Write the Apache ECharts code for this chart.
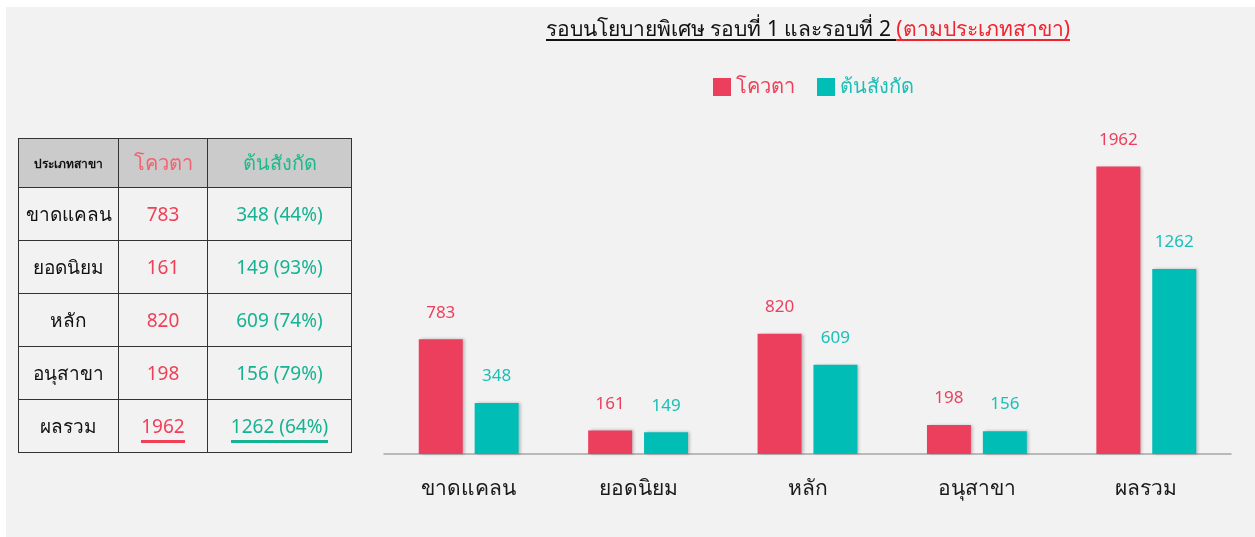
<!DOCTYPE html>
<html>
<head>
<meta charset="utf-8">
<script src="https://cdn.jsdelivr.net/npm/echarts@6/dist/echarts.min.js"></script>
<style>
  html, body { margin: 0; padding: 0; background: #fff; }
  body { width: 1255px; height: 537px; position: relative; overflow: hidden; font-family: "Noto Sans", "Noto Sans CJK SC", sans-serif; }
  .panel { position: absolute; left: 6px; top: 7px; right: 0; bottom: 0; background: #f2f2f2; }
  #chart { position: absolute; left: 0; top: 0; width: 1255px; height: 537px; }
  .title { position: absolute; left: 0; width: 1616px; top: 12px; text-align: center; font-size: 21px; color: #111; }
  .title span { text-decoration: underline; text-underline-offset: 3px; }
  .title .red { color: #f2222e; }
  table.summary { position: absolute; left: 18px; top: 138px; border-collapse: collapse; }
  table.summary td, table.summary th { border: 1px solid #333; text-align: center; padding: 0; font-weight: normal; }
  table.summary th { background: #cbcbcb; height: 48px; font-size: 20px; }
  table.summary td { height: 52px; font-size: 19px; color: #111; }
  .c1 { width: 99px; } .c2 { width: 88px; } .c3 { width: 143px; }
  table.summary td.red { color: #ef4058; }
  table.summary td.teal { color: #15b391; }
  table.summary th.hdr-red { color: #f3626e; }
  table.summary th.hdr-teal { color: #20b98c; }
  table.summary th.hdr-cat { font-size: 12px; font-weight: 600; color: #111; }
  .ul-red { border-bottom: 3px solid #ef4058; padding-bottom: 1px; }
  .ul-teal { border-bottom: 3px solid #15b391; padding-bottom: 1px; }
</style>
</head>
<body>
<div class="panel"></div>
<div id="chart"></div>
<div class="title"><span>รอบนโยบายพิเศษ รอบที่ 1 และรอบที่ 2 </span><span class="red">(ตามประเภทสาขา)</span></div>
<table class="summary" id="tbl"></table>
<script>
var categories = ['ขาดแคลน', 'ยอดนิยม', 'หลัก', 'อนุสาขา', 'ผลรวม']
var quota = [783, 161, 820, 198, 1962]
var confirmed = [348, 149, 609, 156, 1262]
var confirmedPct = ['44%', '93%', '74%', '79%', '64%']
var seriesNames = ['โควตา', 'ต้นสังกัด']
var headerLabel = 'ประเภทสาขา'

// table on the left
var tbl = document.getElementById('tbl')
var html = '<tr><th class="c1 hdr-cat">' + headerLabel + '</th>' +
  '<th class="c2 hdr-red">' + seriesNames[0] + '</th>' +
  '<th class="c3 hdr-teal">' + seriesNames[1] + '</th></tr>'
categories.forEach(function (c, i) {
  var last = i === categories.length - 1
  html += '<tr><td>' + c + '</td>' +
    '<td class="red"><span class="' + (last ? 'ul-red' : '') + '">' + quota[i] + '</span></td>' +
    '<td class="teal"><span class="' + (last ? 'ul-teal' : '') + '">' + confirmed[i] + ' (' + confirmedPct[i] + ')</span></td></tr>'
})
tbl.innerHTML = html

var chart = echarts.init(document.getElementById('chart'))
var barShadow = {
  shadowColor: 'rgba(0,0,0,0.25)',
  shadowBlur: 3,
  shadowOffsetX: 2,
  shadowOffsetY: 0
}
chart.setOption({
  backgroundColor: 'transparent',
  textStyle: { fontFamily: '"Noto Sans", sans-serif' },
  legend: {
    top: 72,
    left: 708,
    itemWidth: 18,
    itemHeight: 18,
    itemGap: 22,
    icon: 'rect',
    textStyle: { fontSize: 20 },
    data: [
      { name: seriesNames[0], textStyle: { color: '#ef4058' } },
      { name: seriesNames[1], textStyle: { color: '#1bbfb5' } }
    ]
  },
  grid: { left: 384, right: 24, top: 161, bottom: 83 },
  xAxis: {
    type: 'category',
    data: categories,
    axisLine: { lineStyle: { color: '#a6a6a6', width: 1.5 } },
    axisTick: { show: false },
    axisLabel: { fontSize: 21, color: '#1a1a1a', margin: 25 }
  },
  yAxis: {
    type: 'value',
    min: 0,
    max: 2000,
    show: false,
    splitLine: { show: false }
  },
  series: [
    {
      name: seriesNames[0],
      type: 'bar',
      data: quota,
      barWidth: 44,
      barGap: '27%',
      itemStyle: Object.assign({ color: '#ec3f5e' }, barShadow),
      label: { show: true, position: 'top', distance: 18, fontSize: 17, color: '#ec3f5e' }
    },
    {
      name: seriesNames[1],
      type: 'bar',
      data: confirmed,
      barWidth: 44,
      itemStyle: Object.assign({ color: '#00bdb5' }, barShadow),
      label: { show: true, position: 'top', distance: 18, fontSize: 17, color: '#19c0b8' }
    }
  ]
})
</script>
</body>
</html>
